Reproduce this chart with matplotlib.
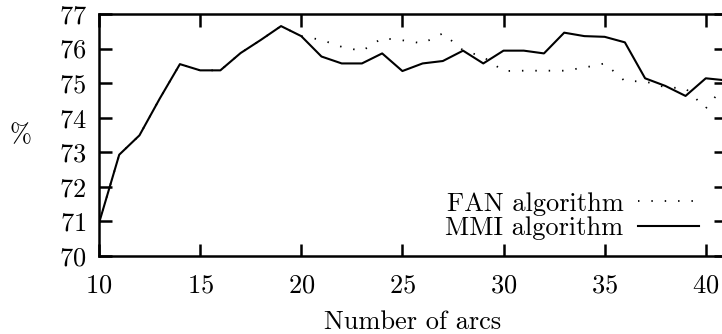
import matplotlib
matplotlib.use("Agg")
import matplotlib.pyplot as plt

# Number of arcs vs recognition rate (%)
arcs = [10, 11, 12, 13, 14, 15, 16, 17, 18, 19, 20, 21, 22, 23, 24, 25,
        26, 27, 28, 29, 30, 31, 32, 33, 34, 35, 36, 37, 38, 39, 40, 41]
mmi = [70.95, 72.93, 73.49, 74.55, 75.55, 75.37, 75.37, 75.87, 76.25, 76.65, 76.36,
       75.77, 75.57, 75.57, 75.86, 75.35, 75.57, 75.64, 75.94, 75.57, 75.94,
       75.94, 75.86, 76.46, 76.36, 76.34, 76.18, 75.14, 74.92, 74.63, 75.14, 75.08]
fan = [70.95, 72.93, 73.49, 74.55, 75.55, 75.37, 75.37, 75.87, 76.25, 76.65, 76.36,
       76.25, 76.05, 75.93, 76.30, 76.24, 76.15, 76.44, 75.95, 75.76, 75.35,
       75.36, 75.36, 75.36, 75.45, 75.57, 75.06, 75.05, 74.88, 74.85, 74.27, 74.98]
xticks = [10, 15, 20, 25, 30, 35, 40]
yticks = [70, 71, 72, 73, 74, 75, 76, 77]

FS = 19
plt.rcParams["font.family"] = "cmr10"
plt.rcParams["axes.formatter.use_mathtext"] = True
plt.rcParams["font.size"] = FS

fig = plt.figure(figsize=(7.22, 3.34), dpi=100)
# right spine sits just past the image edge, like the cropped original
ax = fig.add_axes([99 / 722, 1 - 256 / 334, (726 - 99) / 722, (256 - 14) / 334])

ax.plot(arcs, fan, color="black", lw=1.3, linestyle=(0, (0.8, 6.6)),
        dash_capstyle="butt", label="FAN algorithm")
ax.plot(arcs, mmi, color="black", lw=1.5, label="MMI algorithm")

ax.set_xlim(10, 41)
ax.set_ylim(70, 77)
ax.set_xticks(xticks)
ax.set_yticks(yticks)
ax.tick_params(direction="in", length=9, width=1.8, top=True, right=True,
               labelsize=FS)
ax.tick_params(axis="x", pad=13)
ax.tick_params(axis="y", pad=9)
for s in ax.spines.values():
    s.set_linewidth(1.8)

ax.set_xlabel("Number of arcs", fontsize=FS, labelpad=9)
ax.set_ylabel("%", fontsize=FS, rotation=0, va="center")
ax.yaxis.set_label_coords(-0.125, 0.5)

ax.legend(loc="lower right", frameon=False, markerfirst=False, fontsize=FS,
          handlelength=2.3, handletextpad=0.55, labelspacing=0.02,
          borderaxespad=0.3, bbox_to_anchor=(0.986, -0.01))

fig.savefig("out.png", dpi=100)
